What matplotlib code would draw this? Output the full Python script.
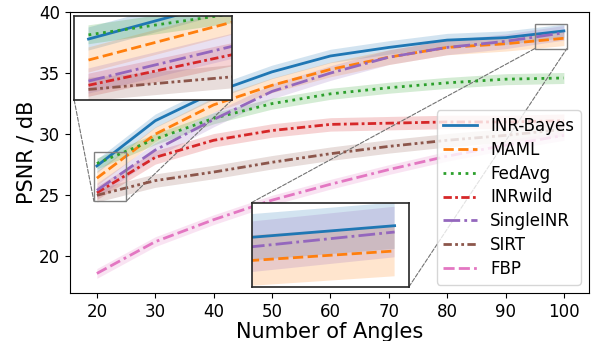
import numpy as np
import matplotlib
matplotlib.use("Agg")
import matplotlib.pyplot as plt
from matplotlib.patches import ConnectionPatch

angles = [20, 30, 40, 50, 60, 70, 80, 90, 100]

methods = ["INR-Bayes", "MAML", "FedAvg", "INRwild", "SingleINR", "SIRT", "FBP"]
inr_bayes = [27.4, 31.1, 33.4, 35.1, 36.4, 37.1, 37.7, 37.9, 38.45]
maml = [26.4, 30.0, 32.4, 34.0, 35.3, 36.3, 37.1, 37.4, 37.85]
fedavg = [27.6, 29.6, 31.3, 32.5, 33.3, 33.8, 34.2, 34.5, 34.6]
inrwild = [25.2, 28.1, 29.5, 30.3, 30.8, 30.9, 31.0, 31.0, 31.1]
singleinr = [25.4, 28.7, 31.2, 33.5, 35.0, 36.3, 37.1, 37.6, 38.3]
sirt = [25.0, 26.2, 26.9, 27.7, 28.4, 29.0, 29.5, 29.9, 30.4]
fbp = [18.6, 21.2, 23.0, 24.6, 25.9, 27.1, 28.2, 29.1, 29.9]

# spread of each method (shaded band)
spreads = [0.55, 0.6, 0.45, 0.55, 0.6, 0.55, 0.4]

colors = ["tab:blue", "tab:orange", "tab:green", "tab:red", "tab:purple", "tab:brown", "tab:pink"]
styles = ["-", (0, (3.7, 1.6)), (0, (1, 1.65)), (0, (3, 1.2, 1, 1.2)),
          (0, (6, 1.5, 1, 1.5)), (0, (3, 1.2, 1, 1.2, 1, 1.2)), (0, (4, 1.5, 4, 1.5, 1, 1.5))]

series = [inr_bayes, maml, fedavg, inrwild, singleinr, sirt, fbp]

fig = plt.figure(figsize=(5.91, 3.41), dpi=100)
ax = fig.add_axes([70 / 591, 1 - 293 / 341, 519 / 591, 281 / 341])

axins1 = ax.inset_axes([0.008, 0.687, 0.304, 0.299])
axins2 = ax.inset_axes([0.350, 0.022, 0.303, 0.300])

x = np.array(angles)
for a in [ax, axins1, axins2]:
    for name, vals, sd, c, ls in zip(methods, series, spreads, colors, styles):
        v = np.array(vals)
        a.fill_between(x, v - sd, v + sd, color=c, alpha=0.2, lw=0)
        a.plot(x, v, color=c, ls=ls, lw=2, label=name)

ax.set_xlim(15.4, 104.3)
ax.set_ylim(17, 40)
ax.set_xticks([20, 30, 40, 50, 60, 70, 80, 90, 100])
ax.set_yticks([20, 25, 30, 35, 40])
ax.tick_params(labelsize=12)
ax.set_xlabel("Number of Angles", fontsize=15, labelpad=1)
ax.set_ylabel("PSNR / dB", fontsize=15, labelpad=2)

# zoom windows
axins1.set_xlim(19.5, 25.0)
axins1.set_ylim(24.5, 28.5)
axins2.set_xlim(95.0, 100.5)
axins2.set_ylim(37.0, 39.0)

for a in [axins1, axins2]:
    a.set_xticks([])
    a.set_yticks([])
    for s in a.spines.values():
        s.set_linewidth(1.2)
        s.set_color("0.15")
    x0, x1 = a.get_xlim()
    y0, y1 = a.get_ylim()
    ax.add_patch(plt.Rectangle((x0, y0), x1 - x0, y1 - y0, fill=False,
                               ec="0.5", lw=1, zorder=4))

# connector lines (inset corner -> zoom box corner)
links = [(axins1, (0, 0), (19.5, 24.5)), (axins1, (1, 0), (25.0, 24.5)),
         (axins2, (0, 1), (95.0, 37.0)), (axins2, (1, 0), (100.5, 37.0))]
for a, ca, cb in links:
    con = ConnectionPatch(xyA=ca, coordsA=a.transAxes, xyB=cb, coordsB=ax.transData,
                          color="0.45", lw=0.8, ls="--")
    ax.add_artist(con)

ax.legend(loc="lower right", fontsize=12, handlelength=2.0, labelspacing=0.35)

fig.savefig("out.png", dpi=100)
